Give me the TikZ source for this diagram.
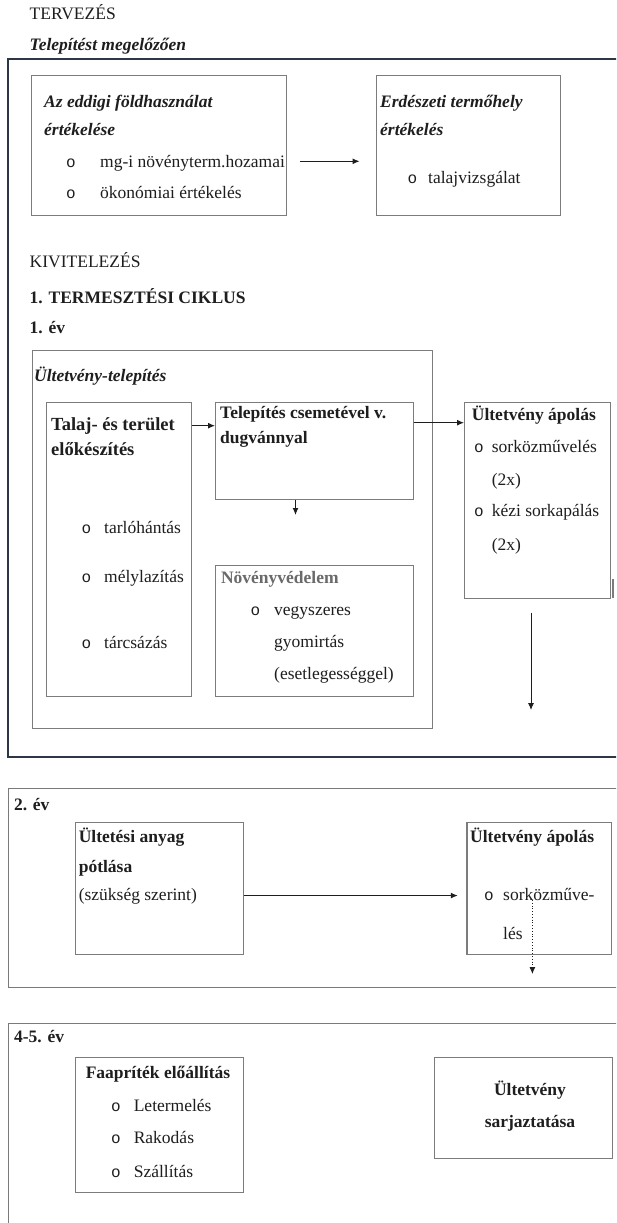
\documentclass[tikz,border=0pt]{standalone}
\usepackage{fontspec}
\setmainfont{Liberation Serif}
\newfontfamily\bulletfont{Liberation Mono}
\usetikzlibrary{arrows.meta,calc}
\definecolor{textcol}{HTML}{1E1E1E}
\definecolor{boxgray}{HTML}{7C7C7C}
\definecolor{framedark}{HTML}{2C3645}
\definecolor{framegray}{HTML}{7A7A7A}
\definecolor{graytext}{HTML}{6A6A6A}
\begin{document}
\begin{tikzpicture}[x=1pt,y=-1pt,
  every node/.style={font=\fontsize{17.5}{20}\selectfont},
  box/.style={draw=boxgray, line width=1.2pt, inner sep=0pt, anchor=north west},
  frameA/.style={draw=framedark, line width=1.6pt, inner sep=0pt, anchor=north west},
  frameB/.style={draw=framegray, line width=1.3pt, inner sep=0pt, anchor=north west},
  txt/.style={anchor=base west, inner sep=0pt, text=textcol},
  bi/.style={txt, font=\fontsize{17.5}{20}\selectfont\bfseries\itshape},
  bf/.style={txt, font=\fontsize{17.5}{20}\selectfont\bfseries},
  bul/.style={anchor=base west, inner sep=0pt, text=textcol, font=\fontsize{16}{20}\bulletfont},
  arr/.style={-{Latex[length=7pt,width=6pt]}, line width=1.1pt, draw=textcol},
]
\useasboundingbox (0,0) rectangle (616,1223);
\clip (0,0) rectangle (616,1223);
\fill[white] (0,0) rectangle (616,1223);

% ---------- TERVEZES ----------
\node[txt] (tervezes) at (29.5,19.5) {TERVEZÉS};
\node[bi] (telepmeg) at (29.5,50.5) {Telepítést megelőzően};
\node[frameA, minimum width=640pt, minimum height=698pt] (frame1) at (7,58) {};

\node[box, minimum width=255.1pt, minimum height=140pt] (boxA) at (30.6,75) {};
\node[bi] (a1) at (44,107.5) {Az eddigi földhasználat};
\node[bi] (a2) at (44,135.5) {értékelése};
\node[bul] (ab1) at (66,167.5) {o};
\node[txt] (a3) at (100,167.5) {mg-i növényterm.hozamai};
\node[bul] (ab2) at (66,198.5) {o};
\node[txt] (a4) at (100,198.5) {ökonómiai értékelés};

\node[box, minimum width=184.4pt, minimum height=140pt] (boxB) at (375.6,75) {};
\node[bi] (b1) at (380,107.5) {Erdészeti termőhely};
\node[bi] (b2) at (380,135.5) {értékelés};
\node[bul] (bb1) at (407.5,183.5) {o};
\node[txt] (b3) at (428,183.5) {talajvizsgálat};

\draw[arr, shorten <=13pt, shorten >=16pt] ([yshift=-15.7pt]boxA.east) -- ([yshift=-15.7pt]boxB.west);

% ---------- KIVITELEZES ----------
\node[txt] (kivit) at (29.5,267.5) {KIVITELEZÉS};
\node[bf] (ciklus) at (29.5,303.5) {1. TERMESZTÉSI CIKLUS};
\node[bf] (ev1) at (29.5,333.5) {1. év};

\node[box, minimum width=400pt, minimum height=378pt] (outer) at (32,350) {};
\node[bi] (ulttel) at (34,381.5) {Ültetvény-telepítés};

\node[box, minimum width=144.5pt, minimum height=294pt] (talaj) at (46,402) {};
\node[txt, font=\fontsize{18.5}{21}\selectfont\bfseries] (t1) at (51,430.5) {Talaj- és terület};
\node[txt, font=\fontsize{18.5}{21}\selectfont\bfseries] (t2) at (51,455.5) {előkészítés};
\node[bul] (tb1) at (81.5,533.5) {o};
\node[txt] (t3) at (104,533.5) {tarlóhántás};
\node[bul] (tb2) at (81.5,582.5) {o};
\node[txt] (t4) at (104,582.5) {mélylazítás};
\node[bul] (tb3) at (81.5,648) {o};
\node[txt] (t5) at (104,648) {tárcsázás};

\node[box, minimum width=197.6pt, minimum height=97pt] (telep) at (215,402) {};
\node[bf] (c1) at (220,418) {Telepítés csemetével v.};
\node[bf] (c2) at (220,443.5) {dugvánnyal};

\node[box, minimum width=197.6pt, minimum height=131pt] (novved) at (215,565) {};
\node[bf, text=graytext] (n1) at (220.8,583) {Növényvédelem};
\node[bul] (nb1) at (250.5,615.5) {o};
\node[txt] (n2) at (274,615.5) {vegyszeres};
\node[txt] (n3) at (274,647.5) {gyomirtás};
\node[txt] (n4) at (274,679.5) {(esetlegességgel)};

\node[box, minimum width=146pt, minimum height=196.3pt] (apolas) at (464,401.7) {};
\node[bf] (p1) at (471.7,420.5) {Ültetvény ápolás};
\node[bul] (pb1) at (474,452) {o};
\node[txt] (p2) at (491.7,452) {sorközművelés};
\node[txt] (p3) at (491.7,485.5) {(2x)};
\node[bul] (pb2) at (474,516.5) {o};
\node[txt] (p4) at (491.7,516.5) {kézi sorkapálás};
\node[txt] (p5) at (491.7,550.5) {(2x)};
\coordinate (edgeA) at (613,579);
\coordinate (edgeB) at (613,598);
\draw[draw=boxgray, line width=1.2pt] (edgeA) -- (edgeB);

\draw[arr] ([yshift=-23.7pt]talaj.north east) -- ([yshift=-23.7pt]telep.north west);
\draw[arr] ([yshift=-20.7pt]telep.north east) -- (apolas.west |- 0,422.7);
\coordinate (dn1) at (295.5,515);
\draw[arr] (telep.south -| dn1) -- (dn1);
\coordinate (dn2) at (531,710);
\draw[arr, line width=0.9pt, shorten <=13.5pt] (apolas.south -| dn2) -- (dn2);

% ---------- 2. ev ----------
\node[frameB, minimum width=640pt, minimum height=199pt] (frame2) at (8,788) {};
\node[bf] (ev2) at (13.8,810.5) {2. év};
\node[box, minimum width=168.1pt, minimum height=132.3pt] (ultetesi) at (74.7,821.7) {};
\node[bf] (u1) at (78.6,842) {Ültetési anyag};
\node[bf] (u2) at (78.6,872.5) {pótlása};
\node[txt] (u3) at (78.6,900.5) {(szükség szerint)};
\node[box, minimum width=144.6pt, minimum height=132.3pt] (apol2) at (466.4,821.7) {};
\node[bf] (q1) at (470,842) {Ültetvény ápolás};
\node[bul] (qb1) at (484,900.5) {o};
\node[txt] (q2) at (503,900.5) {sorközműve-};
\node[txt] (q3) at (503,939.5) {lés};
\draw[arr, shorten >=8.6pt] ([yshift=-7.1pt]ultetesi.east) -- ([yshift=-7.1pt]apol2.west);
\coordinate (dots) at (532.4,900);
\coordinate (dote) at (532.4,974);
\draw[arr, line width=0.8pt, dotted] (dots) -- (dote);

% ---------- 4-5. ev ----------
\node[frameB, minimum width=640pt, minimum height=230pt] (frame3) at (8,1022.7) {};
\node[bf] (ev45) at (13.8,1042.5) {4-5. év};
\node[box, minimum width=168.1pt, minimum height=135.3pt] (faapr) at (74.7,1056.7) {};
\node[bf] (f1) at (85.6,1078) {Faapríték előállítás};
\node[bul] (fb1) at (111,1111.5) {o};
\node[txt] (f2) at (133.6,1111.5) {Letermelés};
\node[bul] (fb2) at (111,1143.5) {o};
\node[txt] (f3) at (133.6,1143.5) {Rakodás};
\node[bul] (fb3) at (111,1177) {o};
\node[txt] (f4) at (133.6,1177) {Szállítás};
\node[box, minimum width=178pt, minimum height=101.3pt] (sarj) at (434,1056.7) {};
\node[bf, anchor=base] (s1) at (530,1095.5) {Ültetvény};
\node[bf, anchor=base] (s2) at (530,1127) {sarjaztatása};
\end{tikzpicture}
\end{document}
